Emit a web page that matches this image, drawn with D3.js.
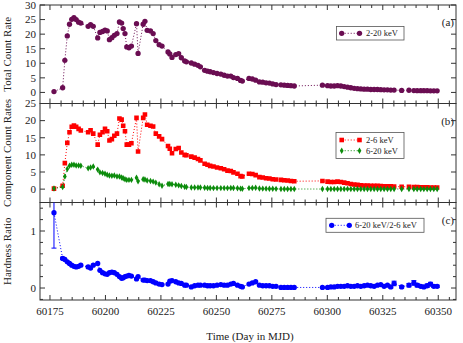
<!DOCTYPE html>
<html>
<head>
<meta charset="utf-8">
<script src="https://cdn.jsdelivr.net/npm/d3@7"></script>
<style>
  body { margin: 0; background: #fff; }
  svg text { font-family: "Liberation Serif", "DejaVu Serif", serif; fill: #222; }
</style>
</head>
<body>
<svg id="chart" width="463" height="343"></svg>
<script>
"use strict";

// ===== Data =====
const mjd = [
  60176.8, 60180.7, 60181.7, 60182.8, 60183.8, 60184.8, 60185.8, 60186.8, 60187.9, 60188.9,
  60192.2, 60193.3, 60194.5, 60196.5, 60197.5, 60198.7, 60199.8, 60200.8, 60201.8, 60202.9,
  60204.0, 60205.2, 60206.3, 60207.3, 60208.0, 60208.8, 60209.6, 60210.6, 60211.7, 60214.0,
  60214.7, 60217.0, 60217.8, 60218.8, 60220.3, 60221.5, 60222.7, 60224.2, 60225.5, 60228.2,
  60229.0, 60230.0, 60231.7, 60233.0, 60234.2, 60235.7, 60236.5, 60238.7, 60240.2, 60241.7,
  60242.8, 60244.7, 60246.0, 60247.2, 60248.7, 60250.3, 60252.0, 60253.5, 60255.0, 60256.5,
  60257.7, 60259.5, 60260.9, 60261.7, 60264.7, 60266.2, 60267.7, 60269.4, 60270.9, 60272.4,
  60273.9, 60275.4, 60276.9, 60279.1, 60280.6, 60282.1, 60283.6, 60285.1,
  60297.8, 60300.1, 60301.6, 60303.1, 60304.6, 60306.1, 60307.6, 60309.1, 60310.6, 60312.1,
  60313.6, 60315.1, 60316.6, 60318.1, 60319.6, 60321.1, 60322.6, 60324.1, 60325.6, 60327.1,
  60328.6, 60330.1, 60333.5, 60336.8, 60339.0, 60340.5, 60342.1, 60343.5, 60345.0, 60346.5,
  60348.0, 60349.5
];

// 2-20 keV total count rate
const total = [
  0.3, 1.6, 11.0, 19.4, 23.4, 25.1, 25.7, 25.0, 24.1, 23.8,
  22.7, 23.3, 22.7, 18.7, 20.6, 20.9, 21.4, 21.1, 18.1, 18.8,
  19.6, 20.2, 24.2, 23.8, 21.9, 20.2, 15.6, 15.3, 15.9, 23.6,
  13.4, 23.4, 24.4, 21.3, 21.1, 20.2, 17.8, 16.4, 15.9, 13.9,
  13.2, 12.0, 13.0, 13.3, 11.9, 10.8, 10.5, 10.1, 9.7, 9.3,
  8.8, 7.6, 7.3, 7.1, 6.8, 6.5, 6.3, 5.9, 5.6, 5.6,
  5.1, 4.8, 4.1, 3.9, 4.8, 4.6, 4.2, 3.6, 3.5, 3.3,
  3.2, 2.9, 2.7, 2.6, 2.5, 2.4, 2.3, 2.2,
  2.5, 2.3, 2.2, 2.2, 2.3, 2.2, 2.0, 1.8, 1.6, 1.4,
  1.3, 1.2, 1.1, 1.1, 1.0, 1.0, 1.0, 0.95, 0.9, 0.9,
  0.8, 0.8, 0.7, 0.75, 0.65, 0.6, 0.6, 0.6, 0.6, 0.55,
  0.55, 0.55
];

// 2-6 keV
const soft = [
  0.15, 1.0, 7.6, 13.5, 16.6, 18.2, 18.6, 18.2, 17.6, 17.1,
  16.6, 17.2, 16.2, 13.0, 15.9, 16.6, 17.6, 16.9, 14.2, 14.6,
  15.6, 16.2, 20.6, 20.3, 18.5, 16.9, 13.0, 13.0, 13.4, 20.8,
  11.0, 20.8, 21.8, 18.8, 18.5, 18.3, 16.2, 15.4, 14.6, 12.6,
  11.8, 10.5, 11.7, 12.0, 10.7, 10.0, 9.9, 9.5, 9.2, 8.8,
  8.4, 7.4, 7.1, 6.8, 6.6, 6.3, 6.1, 5.8, 5.4, 5.3,
  4.9, 4.5, 3.8, 3.7, 4.5, 4.4, 4.1, 3.5, 3.4, 3.2,
  3.1, 2.9, 2.8, 2.7, 2.6, 2.5, 2.4, 2.3,
  2.4, 2.2, 2.1, 2.1, 2.2, 2.1, 1.9, 1.7, 1.5, 1.35,
  1.25, 1.15, 1.05, 1.05, 0.95, 0.95, 0.95, 0.9, 0.85, 0.85,
  0.8, 0.75, 0.7, 0.7, 0.6, 0.6, 0.55, 0.55, 0.55, 0.5,
  0.5, 0.5
];

// 6-20 keV
const hard = [
  0.2, 0.6, 3.7, 5.9, 6.8, 7.1, 7.1, 6.9, 6.9, 6.8,
  6.1, 6.3, 6.6, 5.7, 4.9, 4.7, 4.5, 4.2, 4.0, 3.9,
  4.0, 3.7, 3.7, 3.4, 3.2, 2.9, 2.7, 2.7, 2.7, 3.3,
  2.3, 2.9, 2.8, 2.5, 2.4, 2.2, 1.9, 1.4, 1.0, 1.5,
  1.5, 1.4, 1.3, 1.1, 0.9, 0.7, 0.6, 0.5, 0.5, 0.5,
  0.45, 0.4, 0.35, 0.35, 0.3, 0.3, 0.3, 0.3, 0.3, 0.35,
  0.35, 0.25, 0.15, 0.1, 0.3, 0.35, 0.4, 0.2, 0.15, 0.15,
  0.12, 0.1, 0.08, 0.05, 0.05, 0.05, 0.04, 0.04,
  0.03, 0.03, 0.04, 0.04, 0.06, 0.06, 0.06, 0.07, 0.05, 0.04,
  0.05, 0.04, 0.04, 0.05, 0.04, 0.03, 0.05, 0.05, 0.03, 0.04,
  0.02, 0.06, 0.02, 0.04, 0.05, 0.03, 0.02, 0.01, 0.02, 0.04,
  0.02, 0.02
];

// 6-20 keV / 2-6 keV
const ratio = [
  1.32, 0.52, 0.50, 0.46, 0.43, 0.40, 0.38, 0.37, 0.38, 0.40,
  0.37, 0.35, 0.40, 0.43, 0.31, 0.27, 0.25, 0.24, 0.27, 0.28,
  0.27, 0.24, 0.20, 0.17, 0.18, 0.20, 0.21, 0.22, 0.21, 0.16,
  0.20, 0.14, 0.14, 0.13, 0.13, 0.11, 0.09, 0.07, 0.06, 0.07,
  0.12, 0.13, 0.11, 0.09, 0.08, 0.05, 0.05, 0.02, 0.04, 0.05,
  0.05, 0.05, 0.04, 0.04, 0.04, 0.05, 0.06, 0.05, 0.05, 0.07,
  0.08, 0.05, 0.03, 0.02, 0.07, 0.09, 0.11, 0.05, 0.04, 0.04,
  0.04, 0.03, 0.03, 0.01, 0.01, 0.01, 0.01, 0.01,
  0.01, 0.01, 0.02, 0.02, 0.03, 0.03, 0.03, 0.04, 0.03, 0.03,
  0.04, 0.03, 0.04, 0.05, 0.04, 0.03, 0.05, 0.06, 0.03, 0.05,
  0.02, 0.08, 0.02, 0.05, 0.09, 0.05, 0.03, 0.02, 0.04, 0.07,
  0.03, 0.03
];

const ratioErr = [
  0.62, 0.02, 0.01, 0.01, 0.01, 0.01, 0.01, 0.01, 0.01, 0.01,
  0.01, 0.01, 0.01, 0.01, 0.01, 0.01, 0.01, 0.01, 0.01, 0.01,
  0.01, 0.01, 0.01, 0.01, 0.01, 0.01, 0.01, 0.01, 0.01, 0.01,
  0.01, 0.01, 0.01, 0.01, 0.01, 0.01, 0.01, 0.01, 0.01, 0.01,
  0.01, 0.01, 0.01, 0.01, 0.01, 0.01, 0.01, 0.01, 0.01, 0.01,
  0.01, 0.01, 0.01, 0.01, 0.01, 0.01, 0.01, 0.01, 0.01, 0.01,
  0.01, 0.01, 0.01, 0.01, 0.01, 0.01, 0.01, 0.01, 0.01, 0.01,
  0.01, 0.01, 0.01, 0.01, 0.01, 0.01, 0.01, 0.01,
  0.01, 0.01, 0.01, 0.01, 0.01, 0.01, 0.01, 0.01, 0.01, 0.01,
  0.01, 0.01, 0.01, 0.01, 0.01, 0.01, 0.01, 0.01, 0.01, 0.01,
  0.02, 0.04, 0.02, 0.03, 0.04, 0.03, 0.02, 0.02, 0.03, 0.03,
  0.02, 0.02
];

// Axis ticks
const xMajor = [60175, 60200, 60225, 60250, 60275, 60300, 60325, 60350];
const xMinor = d3.range(60175, 60360, 5);
const aTicks = [0, 5, 10, 15, 20, 25, 30];
const bTicks = [0, 5, 10, 15, 20, 25];
const cTicks = [0, 1];
const cMinor = [-0.2, 0.2, 0.4, 0.6, 0.8, 1.2, 1.4];

// ===== Setup =====
const svg = d3.select("#chart");
const ink = "#333";
const left = 40, right = 456;
const colors = { total: "#6a0d52", soft: "#ff0000", hard: "#0c8c0c", ratio: "#0000ff" };

const x = d3.scaleLinear().domain([60170.5, 60358]).range([left, right]);

const panels = [
  { id: "a", top: 5,     bottom: 103.5, domain: [-3.8, 30],   ticks: aTicks, minor: [], title: "Total Count Rate",      tag: "(a)" },
  { id: "b", top: 103.5, bottom: 202.5, domain: [-3.9, 25],   ticks: bTicks, minor: [], title: "Component Count Rates", tag: "(b)" },
  { id: "c", top: 202.5, bottom: 300,   domain: [-0.21, 1.5], ticks: cTicks, minor: cMinor, title: "Hardness Ratio",  tag: "(c)" }
];
panels.forEach(p => {
  p.y = d3.scaleLinear().domain(p.domain).range([p.bottom, p.top]);
});

const defs = svg.append("defs");
panels.forEach(p => {
  defs.append("clipPath").attr("id", "clip-" + p.id)
    .append("rect")
    .attr("x", left).attr("y", p.top)
    .attr("width", right - left).attr("height", p.bottom - p.top);
});

// ===== Frames & ticks =====
panels.forEach(p => {
  const g = svg.append("g").attr("class", "frame");

  // x ticks, inward at top and bottom of every panel
  xMinor.forEach(v => {
    const len = xMajor.includes(v) ? 5 : 3;
    g.append("line").attr("x1", x(v)).attr("x2", x(v))
      .attr("y1", p.bottom).attr("y2", p.bottom - len).attr("stroke", ink);
    g.append("line").attr("x1", x(v)).attr("x2", x(v))
      .attr("y1", p.top).attr("y2", p.top + len).attr("stroke", ink);
  });

  // y ticks, inward at left and right
  p.ticks.concat(p.minor).forEach(v => {
    const len = p.ticks.includes(v) ? 5 : 3;
    g.append("line").attr("x1", left).attr("x2", left + len)
      .attr("y1", p.y(v)).attr("y2", p.y(v)).attr("stroke", ink);
    g.append("line").attr("x1", right).attr("x2", right - len)
      .attr("y1", p.y(v)).attr("y2", p.y(v)).attr("stroke", ink);
  });

  p.ticks.forEach(v => {
    g.append("text").attr("x", 36).attr("y", p.y(v) + 3.8)
      .attr("text-anchor", "end").attr("font-size", 11).text(v);
  });

  g.append("rect").attr("x", left).attr("y", p.top)
    .attr("width", right - left).attr("height", p.bottom - p.top)
    .attr("fill", "none").attr("stroke", ink).attr("stroke-width", 1);

  g.append("text")
    .attr("transform", `translate(10.5,${(p.top + p.bottom) / 2}) rotate(-90)`)
    .attr("text-anchor", "middle").attr("font-size", 11)
    .text(p.title);

  g.append("text").attr("x", 454).attr("y", p.top + 21)
    .attr("text-anchor", "end").attr("font-size", 11).text(p.tag);
});

// x tick labels & title
xMajor.forEach(v => {
  svg.append("text").attr("x", x(v)).attr("y", 315)
    .attr("text-anchor", "middle").attr("font-size", 11).text(v);
});
svg.append("text").attr("x", 250).attr("y", 339.5)
  .attr("text-anchor", "middle").attr("font-size", 11)
  .text("Time (Day in MJD)");

// ===== Series =====
function markerPath(kind) {
  if (kind === "square") return d3.symbol(d3.symbolSquare, 21)();
  if (kind === "diamond") return d3.symbol(d3.symbolDiamond, 12)();
  return d3.symbol(d3.symbolCircle, 22)();
}

function drawSeries(p, values, color, kind) {
  const pts = mjd.map((d, i) => ({ x: d, y: values[i] }));
  const g = svg.append("g").attr("clip-path", `url(#clip-${p.id})`);
  const line = d3.line().x(d => x(d.x)).y(d => p.y(d.y));
  g.append("path").datum(pts)
    .attr("d", line)
    .attr("fill", "none")
    .attr("stroke", color)
    .attr("stroke-width", 1)
    .attr("stroke-dasharray", "1,2");
  g.selectAll("path.pt").data(pts).join("path")
    .attr("class", "pt")
    .attr("d", markerPath(kind))
    .attr("transform", d => `translate(${x(d.x)},${p.y(d.y)})`)
    .attr("fill", color);
  return g;
}

const [pa, pb, pc] = panels;
drawSeries(pa, total, colors.total, "circle");
drawSeries(pb, soft, colors.soft, "square");
drawSeries(pb, hard, colors.hard, "diamond");

// error bars for the hardness ratio
const errG = svg.append("g").attr("clip-path", "url(#clip-c)");
mjd.forEach((d, i) => {
  const e = ratioErr[i];
  if (e < 0.015) return;
  const cx = x(d), y1 = pc.y(ratio[i] - e), y2 = pc.y(ratio[i] + e);
  errG.append("line").attr("x1", cx).attr("x2", cx).attr("y1", y1).attr("y2", y2)
    .attr("stroke", colors.ratio).attr("stroke-width", 1);
  [y1, y2].forEach(yy => {
    errG.append("line").attr("x1", cx - 2.5).attr("x2", cx + 2.5).attr("y1", yy).attr("y2", yy)
      .attr("stroke", colors.ratio).attr("stroke-width", 1);
  });
});
drawSeries(pc, ratio, colors.ratio, "circle");

// ===== Legends =====
function legendBox(x0, y0, w, h) {
  svg.append("rect").attr("x", x0).attr("y", y0).attr("width", w).attr("height", h)
    .attr("fill", "#fff").attr("stroke", "#555").attr("stroke-width", 0.8);
}
function legendRow(x1, x2, yy, color, kind, label, tx) {
  svg.append("line").attr("x1", x1).attr("x2", x2).attr("y1", yy).attr("y2", yy)
    .attr("stroke", color).attr("stroke-dasharray", "1,2");
  [x1, x2].forEach(xx => {
    svg.append("path").attr("d", markerPath(kind))
      .attr("transform", `translate(${xx},${yy})`).attr("fill", color);
  });
  svg.append("text").attr("x", tx).attr("y", yy + 3).attr("font-size", 8.5).text(label);
}

legendBox(336.5, 26.5, 67.5, 13.5);
legendRow(341.7, 359.5, 33.3, colors.total, "circle", "2-20 keV", 366);

legendBox(336, 132.5, 68, 26);
legendRow(341.7, 359.5, 140, colors.soft, "square", "2-6 keV", 366);
legendRow(341.7, 359.5, 150.7, colors.hard, "diamond", "6-20 keV", 366);

legendBox(326, 218.3, 98, 14);
legendRow(331.7, 349.3, 225.3, colors.ratio, "circle", "6-20 keV/2-6 keV", 355);
</script>
</body>
</html>
